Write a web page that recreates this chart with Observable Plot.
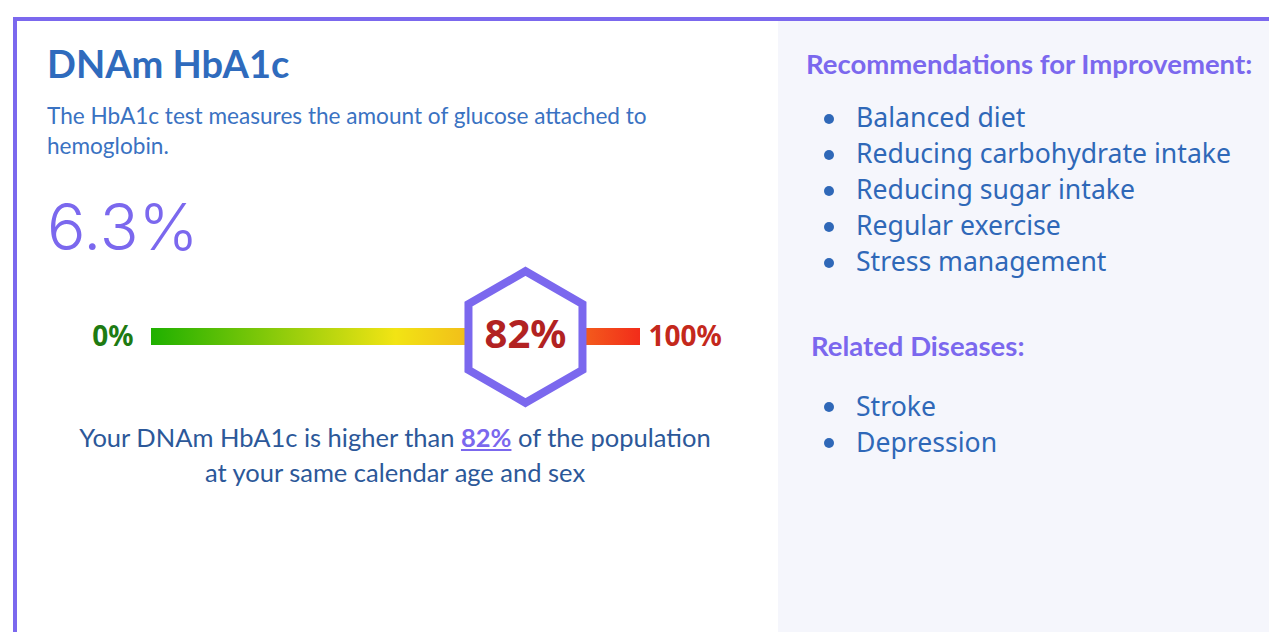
<!DOCTYPE html>
<html>
<head>
<meta charset="utf-8">
<script src="https://cdn.jsdelivr.net/npm/d3@7"></script>
<script src="https://cdn.jsdelivr.net/npm/@observablehq/plot@0.6"></script>
<style>
  html, body { margin: 0; padding: 0; background: #ffffff; width: 1269px; height: 632px; overflow: hidden; }
  .card { position: absolute; left: 13px; top: 17px; width: 1400px; height: 700px;
          border-top: 4px solid #7b68ee; border-left: 4px solid #7b68ee; background: #ffffff; }
  .side { position: absolute; left: 778px; top: 21px; width: 600px; height: 700px; background: #f5f6fc; }
  .abs { position: absolute; white-space: nowrap; line-height: 1; }
  .title { left: 47px; top: 40px; font: 700 38px Lato, sans-serif; color: #2f6bbd; }
  .desc { left: 47px; top: 101px; font: 400 22.6px Lato, sans-serif; line-height: 30px; color: #3a72c2; }
  .big { left: 47px; top: 188px; font: 300 64px Inter, sans-serif; color: #7b68ee; }
  .note { left: 47px; width: 696px; top: 420px; text-align: center; font: 400 25.5px Lato, sans-serif;
          line-height: 35px; color: #2c5899; }
  .note b { color: #7b68ee; text-decoration: underline; font-weight: 700; }
  .head { font: 700 27.5px Lato, sans-serif; color: #7b68ee; }
  ul.items { position: absolute; left: 856px; margin: 0; padding: 0; list-style: none;
             font: 400 26.6px "Noto Sans", sans-serif; line-height: 36px; color: #2f68b8; white-space: nowrap; }
  ul.items li { position: relative; }
  ul.items li::before { content: ""; position: absolute; left: -32px; top: 14.5px; width: 10px; height: 10px;
                        border-radius: 50%; background: #2f68b8; }
  #gauge { position: absolute; left: 0; top: 250px; }
</style>
</head>
<body>
<script>
// ---- data ----
const metricName = "DNAm HbA1c";
const metricDescription = ["The HbA1c test measures the amount of glucose attached to", "hemoglobin."];
const metricValue = "6.3%";
const percentile = 82;
const scaleStops = [0, 100];
const scaleLabels = ["0%", "100%"];
const recommendations = ["Balanced diet", "Reducing carbohydrate intake", "Reducing sugar intake", "Regular exercise", "Stress management"];
const relatedDiseases = ["Stroke", "Depression"];
const recHeading = "Recommendations for Improvement:";
const diseaseHeading = "Related Diseases:";

// ---- layout ----
const card = document.createElement("div"); card.className = "card"; document.body.appendChild(card);
const side = document.createElement("div"); side.className = "side"; document.body.appendChild(side);

function addDiv(cls, html, style) {
  const d = document.createElement("div");
  d.className = "abs " + cls;
  d.innerHTML = html;
  if (style) Object.assign(d.style, style);
  document.body.appendChild(d);
  return d;
}
addDiv("title", metricName);
addDiv("desc", metricDescription.join("<br>"));
addDiv("big", metricValue);
addDiv("note", `Your ${metricName} is higher than <b>${percentile}%</b> of the population<br>at your same calendar age and sex`);

addDiv("head", recHeading, {left: "806px", top: "46.6px"});
addDiv("head", diseaseHeading, {left: "811px", top: "329px"});

function addList(items, top) {
  const ul = document.createElement("ul");
  ul.className = "items";
  ul.style.top = top + "px";
  for (const t of items) { const li = document.createElement("li"); li.textContent = t; ul.appendChild(li); }
  document.body.appendChild(ul);
}
addList(recommendations, 99);
addList(relatedDiseases, 387.7);

// ---- gauge (Observable Plot) ----
const bar = [{x1: scaleStops[0], x2: scaleStops[1], y1: 0, y2: 1}];
const ends = scaleStops.map((v, i) => ({x: v, label: scaleLabels[i]}));
const marker = [{x: percentile, y: 0.5, label: percentile + "%"}];

const svg = Plot.plot({
  width: 778,
  height: 170,
  margin: 0,
  x: {domain: [0, 100], range: [151, 640], axis: null},
  y: {domain: [0, 1], range: [95, 78], axis: null},
  style: {background: "transparent", overflow: "visible"},
  marks: [
    Plot.rect(bar, {x1: "x1", x2: "x2", y1: "y1", y2: "y2", fill: "url(#gaugeGrad)"}),
    Plot.text(ends.slice(0, 1), {x: "x", y: () => 0.5, text: "label", textAnchor: "end", dx: -18,
      fontSize: 28, fontWeight: 700, fontFamily: "Noto Sans", fill: "#1e7b12"}),
    Plot.text(ends.slice(1), {x: "x", y: () => 0.5, text: "label", textAnchor: "start", dx: 8,
      fontSize: 28, fontWeight: 700, fontFamily: "Noto Sans", fill: "#c4281c"}),
    Plot.dot(marker, {x: "x", y: "y", symbol: "hexagon", r: 57, dx: -27, fill: "white",
      stroke: "#7b68ee", strokeWidth: 8}),
    Plot.text(marker, {x: "x", y: "y", text: "label", dx: -27, dy: -2, fontSize: 40, fontWeight: 700,
      fontFamily: "Noto Sans", fill: "#b22222"})
  ]
});
svg.id = "gauge";
const defs = d3.select(svg).insert("defs", ":first-child");
const grad = defs.append("linearGradient").attr("id", "gaugeGrad").attr("x1", "0").attr("x2", "1").attr("y1", "0").attr("y2", "0");
[["0", "#1fb000"], ["0.5", "#f2e414"], ["0.65", "#f2bd1a"], ["0.89", "#f35a1c"], ["1", "#f22c1a"]]
  .forEach(([o, c]) => grad.append("stop").attr("offset", o).attr("stop-color", c));
document.body.appendChild(svg);
</script>
</body>
</html>
